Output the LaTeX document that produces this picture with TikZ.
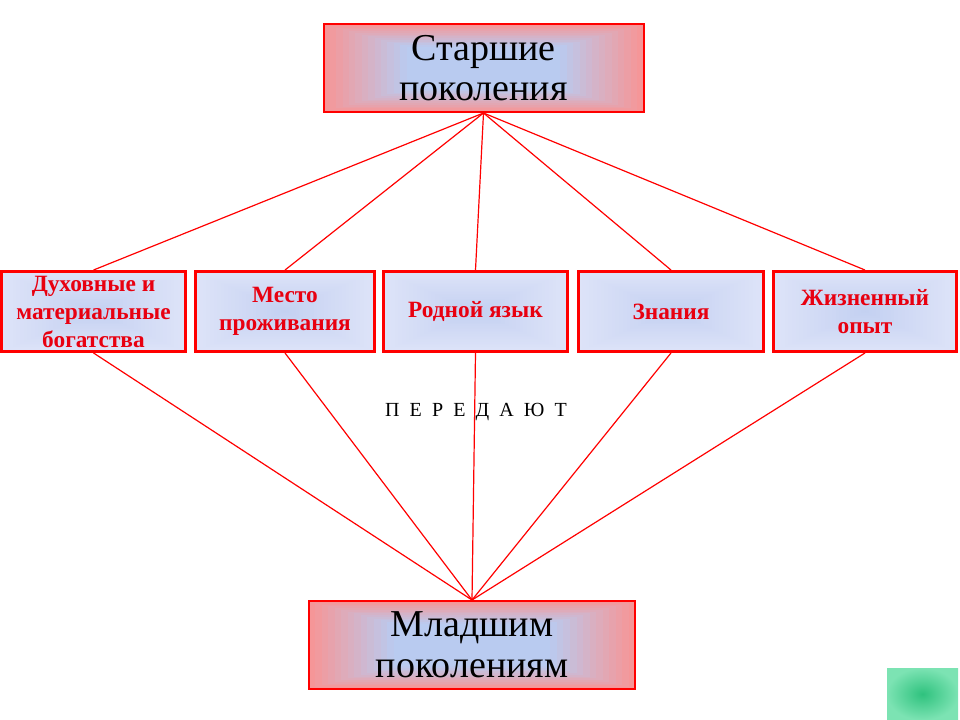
\documentclass[tikz,border=0pt]{standalone}
\usepackage{fontspec}
\setmainfont{Liberation Serif}
\usetikzlibrary{calc, positioning}
\definecolor{boxred}{HTML}{F59698}
\definecolor{boxblue}{HTML}{B9CBF0}
\definecolor{cellout}{HTML}{DDE3F8}
\definecolor{cellin}{HTML}{C3D0F1}
\definecolor{linered}{HTML}{FF0000}
\definecolor{textred}{HTML}{E80010}
\definecolor{greenin}{HTML}{2FC27E}
\definecolor{greenout}{HTML}{7CE3B3}
% nested rectangles, outer colour -> inner colour
\newcommand\nestfill[3]{%
  \foreach \t in {0,0.04,...,1.0}{%
    \pgfmathtruncatemacro\mixpct{min(100,100*\t/#3)}%
    \fill[#2!\mixpct!#1]
      ($(path picture bounding box.south west)!\t!(path picture bounding box.center)$)
      rectangle
      ($(path picture bounding box.north east)!\t!(path picture bounding box.center)$);
  }}

\begin{document}
\begin{tikzpicture}[x=0.75pt, y=-0.75pt,
    bigbox/.style={draw=linered, line width=1.5pt, minimum height=66pt,
      align=center, inner sep=0pt, font=\fontsize{28.5}{30.5}\selectfont,
      path picture={\nestfill{boxred}{boxblue}{0.5}}},
    cellbox/.style={draw=linered, line width=2.2pt, minimum height=60pt,
      align=center, inner sep=0pt, text=textred,
      font=\bfseries\fontsize{17.5}{21}\selectfont,
      path picture={\nestfill{cellout}{cellin}{1}}},
    link/.style={linered, line width=0.9pt}]
  \useasboundingbox (0,0) rectangle (960,720);
  % generations
  \node[bigbox, minimum width=240pt] (older) at (483.5,68) {Старшие\\поколения};
  \node[bigbox, minimum width=245pt] (younger) at (472,645) {Младшим\\поколениям};
  % what is handed over
  \node[cellbox, minimum width=138pt] (wealth) at (93.5,311.5)
    {Духовные и\\материальные\\богатства};
  \node[cellbox, minimum width=134pt] (home) at (285,311.5) {Место\\проживания};
  \node[cellbox, minimum width=138pt] (lang) at (475.5,311.5) {Родной язык};
  \node[cellbox, minimum width=139pt] (know) at (671,311.5) {Знания};
  \node[cellbox, minimum width=137pt] (exper) at (865,311.5) {Жизненный\\опыт};
  % verb
  \node[font=\fontsize{15}{17}\selectfont] (verb) at (476,412)
    {\spaceskip=7.6pt П Е Р Е Д А Ю Т};
  % links
  \foreach \cell in {wealth, home, lang, know, exper}{
    \draw[link] (older.south) -- (\cell.north);
    \draw[link] (\cell.south) -- (younger.north);
  }
  % green button
  \shade[inner color=greenin, outer color=greenout] (887,668) rectangle (958,720);
\end{tikzpicture}
\end{document}
